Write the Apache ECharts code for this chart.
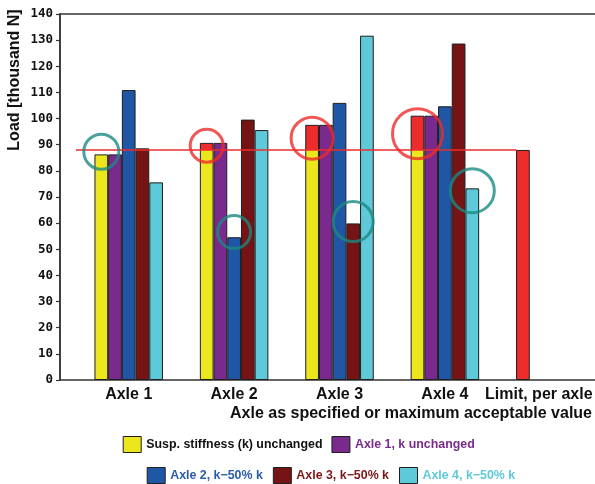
<!DOCTYPE html>
<html>
<head>
<meta charset="utf-8">
<script src="https://cdn.jsdelivr.net/npm/echarts@6/dist/echarts.min.js"></script>
<style>
  html, body { margin: 0; padding: 0; background: #fff; }
  #chart { width: 595px; height: 484px; }
</style>
</head>
<body>
<div id="chart"></div>
<script>
// ---------- data ----------
const categories = ['Axle 1', 'Axle 2', 'Axle 3', 'Axle 4', 'Limit, per axle'];
const categoryX = [1, 2, 3, 4, 5];
const limitValue = 88;
const suspUnchanged = [86.3, 90.7, 97.6, 101.1, null];
const axle1Unchanged = [86.3, 90.7, 97.6, 101.1, null];
const axle2Half = [110.9, 54.6, 106.0, 104.7, null];
const axle3Half = [88.6, 99.6, 59.9, 128.7, null];
const axle4Half = [75.6, 95.6, 131.7, 73.3, null];
const yTicks = [0, 10, 20, 30, 40, 50, 60, 70, 80, 90, 100, 110, 120, 130, 140];

// highlight rings: category position, bar slot, value, kind
const ringCategory = [1, 2, 2, 3, 3, 4, 4];
const ringSlot = [0, 0, 2, 0, 3, 0, 4];
const ringValue = [87.3, 89.6, 56.6, 92.5, 60.6, 94.2, 72.4];
const ringKind = ['teal', 'red', 'teal', 'red', 'teal', 'red', 'teal'];

// ---------- style ----------
const ringDiameter = [35, 33, 33, 42, 40, 50, 44];
const C = {
  yellow: '#ece61c', purple: '#7a2a8c', blue: '#1f56a5', darkRed: '#751315',
  cyan: '#5ec9d8', red: '#ee2c2c', teal: '#1c8a82', border: '#1e1e1e'
};
const barW = 13.7;
const labelFont = '"Liberation Sans", Arial, sans-serif';

const names = {
  s0: 'Susp. stiffness (k) unchanged',
  s1: 'Axle 1, k unchanged',
  s2: 'Axle 2, k\u221250% k',
  s3: 'Axle 3, k\u221250% k',
  s4: 'Axle 4, k\u221250% k'
};

function pairs(arr) { return arr.map((v, i) => [categoryX[i], v]); }

// yellow series: part above the limit is painted red; the limit itself is a red bar
const yellowData = suspUnchanged.map((v, i) => {
  if (i === categories.length - 1) {
    return { value: [categoryX[i], limitValue], itemStyle: { color: C.red } };
  }
  if (v != null && v > limitValue) {
    const f = (v - limitValue) / v;
    return {
      value: [categoryX[i], v],
      itemStyle: {
        color: new echarts.graphic.LinearGradient(0, 0, 0, 1, [
          { offset: 0, color: C.red }, { offset: f, color: C.red },
          { offset: f, color: C.yellow }, { offset: 1, color: C.yellow }
        ])
      }
    };
  }
  return { value: [categoryX[i], v] };
});

function barSeries(name, data, color) {
  return {
    name: name, type: 'bar', data: data, barWidth: barW, barGap: '0%',
    itemStyle: { color: color, borderColor: C.border, borderWidth: 1 },
    emphasis: { disabled: true }, silent: true, z: 2
  };
}

function ringData(kind) {
  const out = [];
  ringValue.forEach((v, i) => {
    if (ringKind[i] !== kind) return;
    out.push({
      value: [ringCategory[i], v],
      symbolSize: ringDiameter[i],
      symbolOffset: [(ringSlot[i] - 2) * barW, 0]
    });
  });
  return out;
}

const chart = echarts.init(document.getElementById('chart'), null, { renderer: 'canvas' });
chart.setOption({
  animation: false,
  backgroundColor: '#fff',
  grid: {
    left: 60, right: -8, top: 14, bottom: 104, containLabel: false, outerBoundsMode: 'none',
    show: true, borderColor: '#333', borderWidth: 1.5, backgroundColor: 'transparent'
  },
  xAxis: {
    type: 'value', min: 0.348, max: 5.5,
    axisLine: { show: false }, axisTick: { show: false }, splitLine: { show: false },
    axisLabel: {
      customValues: categoryX,
      margin: 7,
      color: '#111', fontSize: 16, fontWeight: 'bold', fontFamily: labelFont,
      formatter: function (v) {
        const idx = categoryX.indexOf(Math.round(v));
        if (idx < 0) return '';
        if (idx === categories.length - 1) return '{lim|' + categories[idx] + '}';
        return categories[idx];
      },
      rich: { lim: { padding: [0, 23, 0, 0], fontSize: 16, fontWeight: 'bold', fontFamily: labelFont, color: '#111' } }
    }
  },
  yAxis: {
    type: 'value', min: yTicks[0], max: yTicks[yTicks.length - 1], interval: 10,
    axisLine: { show: true, lineStyle: { color: '#333', width: 1.5 } },
    axisTick: { show: true, length: 4, lineStyle: { color: '#333', width: 1.2 } },
    splitLine: { show: false },
    axisLabel: {
      margin: 7, color: '#111', fontSize: 12.5, fontWeight: 'bold',
      fontFamily: '"DejaVu Sans Mono", "Liberation Mono", monospace'
    }
  },
  title: {
    text: 'Axle as specified or maximum acceptable value',
    right: 3, top: 406, padding: 0,
    textStyle: { color: '#111', fontSize: 16, fontWeight: 'bold', fontFamily: labelFont }
  },
  graphic: [{
    type: 'text', x: 15, y: 80, rotation: Math.PI / 2, silent: true,
    style: {
      text: 'Load [thousand N]', fill: '#111', align: 'center', verticalAlign: 'middle',
      font: 'bold 16px "Liberation Sans", Arial, sans-serif'
    }
  }],
  legend: [
    {
      left: 122.7, top: 436, padding: 0, itemWidth: 18, itemHeight: 16, itemGap: 9,
      icon: 'rect', selectedMode: false,
      itemStyle: { color: C.yellow, borderColor: C.border, borderWidth: 1 },
      textStyle: { fontSize: 12.4, fontWeight: 'bold', fontFamily: labelFont, color: '#111' },
      data: [
        { name: names.s0, textStyle: { color: '#111' } },
        { name: names.s1, itemStyle: { color: C.purple }, textStyle: { color: C.purple } }
      ]
    },
    {
      left: 146.7, top: 467, padding: 0, itemWidth: 18, itemHeight: 16, itemGap: 10,
      icon: 'rect', selectedMode: false,
      itemStyle: { borderColor: C.border, borderWidth: 1 },
      textStyle: { fontSize: 12.4, fontWeight: 'bold', fontFamily: labelFont },
      data: [
        { name: names.s2, textStyle: { color: '#2a5caa' } },
        { name: names.s3, textStyle: { color: '#7a1518' } },
        { name: names.s4, textStyle: { color: C.cyan } }
      ]
    }
  ],
  series: [
    barSeries(names.s0, yellowData, C.yellow),
    barSeries(names.s1, pairs(axle1Unchanged), C.purple),
    barSeries(names.s2, pairs(axle2Half), C.blue),
    barSeries(names.s3, pairs(axle3Half), C.darkRed),
    barSeries(names.s4, pairs(axle4Half), C.cyan),
    {
      name: 'ring-red', type: 'scatter', symbol: 'circle', silent: true, z: 10,
      itemStyle: { color: 'rgba(0,0,0,0)', borderColor: C.red, borderWidth: 3 },
      emphasis: { disabled: true },
      data: ringData('red'),
      markLine: {
        silent: true, symbol: ['none', 'none'], z: 5,
        label: { show: false },
        lineStyle: { color: C.red, width: 1.5, type: 'solid' },
        emphasis: { disabled: true },
        data: [[{ coord: [0.5, limitValue] }, { coord: [4.68, limitValue] }]]
      }
    },
    {
      name: 'ring-teal', type: 'scatter', symbol: 'circle', silent: true, z: 10,
      itemStyle: { color: 'rgba(0,0,0,0)', borderColor: C.teal, borderWidth: 3 },
      emphasis: { disabled: true },
      data: ringData('teal')
    }
  ]
});
</script>
</body>
</html>
